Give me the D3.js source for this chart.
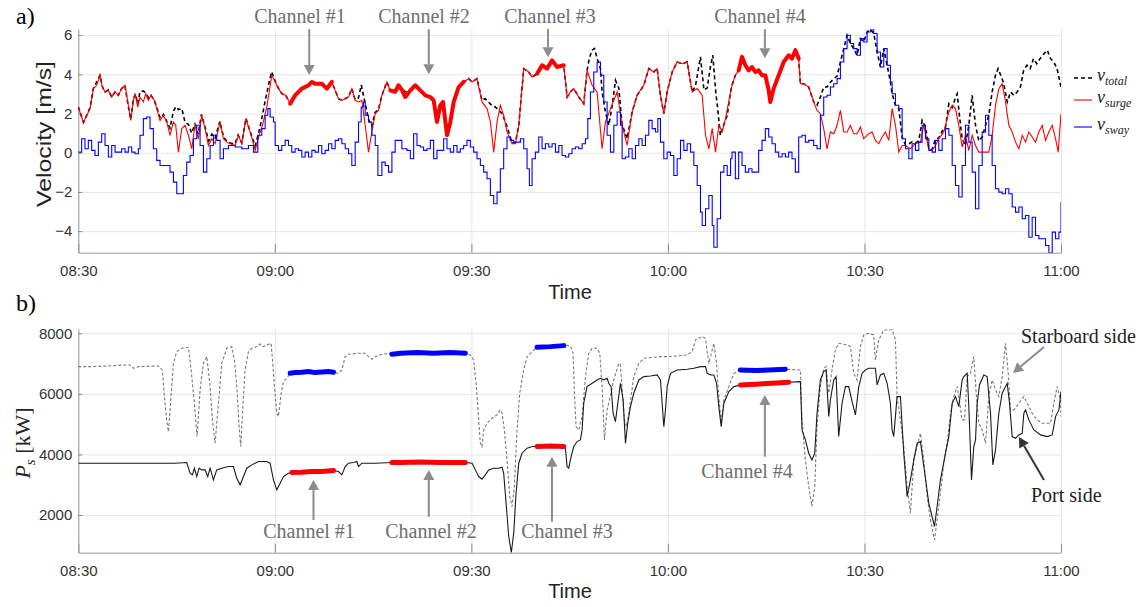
<!DOCTYPE html>
<html>
<head>
<meta charset="utf-8">
<script src="https://cdn.jsdelivr.net/npm/d3@7"></script>
<style>
  body { margin: 0; background: #fff; }
  .sans { font-family: "Liberation Sans", Arial, Helvetica, sans-serif; }
  .serif { font-family: "Liberation Serif", "Times New Roman", serif; }
</style>
</head>
<body>
<svg id="fig" width="1146" height="607"></svg>
<script>
// Time is given in minutes after 08:30.
const xTickMinutes = [0, 30, 60, 90, 120, 150];
const xTickLabels = ["08:30", "09:00", "09:30", "10:00", "10:30", "11:00"];
const velTicks = [-4, -2, 0, 2, 4, 6];
const powTicks = [2000, 4000, 6000, 8000];

// Minute intervals of the four channel passages
const channels = [[32.3, 39.1], [47.6, 59.1], [70.0, 74.15], [100.8, 110.2]];
const channelNames = ["Channel #1", "Channel #2", "Channel #3", "Channel #4"];

// Surge velocity [m/s]
const vSurge = [[0,2.33],[0.77,1.53],[1.79,2.25],[2.3,3.27],[2.81,3.44],[3.31,3.95],[3.67,3.35],[4.08,3.1],[4.59,3.18],[5.1,2.84],[5.61,3.1],[6.12,2.93],[6.62,3.27],[7.13,3.44],[7.64,2.42],[8.0,1.65],[8.41,2.67],[8.66,3.01],[9.07,2.33],[9.42,2.84],[9.93,2.59],[10.29,3.01],[10.7,2.67],[11.1,2.93],[11.61,2.67],[11.97,2.25],[12.48,1.65],[12.99,1.91],[13.5,1.57],[14.0,0.89],[14.5,1.57],[14.87,1.4],[15.28,0.03],[15.79,1.23],[16.3,1.4],[16.81,0.89],[17.32,0.2],[17.82,1.4],[18.33,0.71],[18.84,1.91],[19.35,1.23],[19.86,0.37],[20.37,0.71],[20.88,0.46],[21.64,1.57],[22.15,0.71],[22.66,0.54],[23.17,0.46],[23.94,0.37],[24.44,0.89],[24.95,0.46],[25.57,1.74],[26.23,1.06],[27.0,0.12],[27.6,0.89],[28.11,1.4],[28.77,2.33],[29.54,3.95],[30.05,3.61],[30.55,3.27],[31.06,3.01],[31.67,2.93],[32.34,2.5],[33.1,2.93],[34.12,3.27],[35.14,3.44],[35.65,3.61],[36.15,3.52],[37.17,3.52],[37.94,3.27],[38.7,3.61],[39.21,3.18],[39.72,2.76],[40.23,2.67],[40.74,2.76],[41.25,2.84],[41.75,3.27],[42.26,2.67],[42.77,2.59],[43.28,2.67],[43.79,1.4],[44.3,0.03],[44.81,1.06],[45.32,1.99],[45.83,2.16],[46.34,2.93],[47.1,3.61],[47.61,3.18],[48.37,3.1],[48.88,3.44],[49.4,3.2],[49.91,2.84],[50.68,3.18],[51.44,3.44],[52.2,3.18],[52.97,2.93],[53.73,2.84],[54.24,2.67],[54.75,1.57],[55.26,2.42],[55.67,2.59],[56.28,0.89],[56.79,1.57],[57.3,2.59],[58.06,3.35],[58.82,3.61],[59.59,3.78],[60.1,3.61],[60.86,3.78],[61.62,2.59],[62.39,2.25],[62.9,1.57],[63.41,0.03],[63.92,1.57],[64.42,2.42],[64.93,1.91],[65.44,1.06],[66.21,0.46],[66.72,0.46],[67.23,1.4],[67.99,4.29],[68.75,4.12],[69.26,3.86],[70.03,4.03],[70.79,4.46],[71.55,4.29],[72.32,4.71],[73.08,4.37],[74.1,4.46],[74.61,2.84],[75.12,3.1],[75.63,3.27],[76.39,2.84],[77.15,2.5],[77.66,4.2],[78.43,3.44],[79.19,3.1],[79.95,0.2],[80.46,1.57],[81.23,2.25],[82.25,3.1],[83.01,1.4],[83.77,0.37],[84.54,2.08],[85.3,2.93],[86.32,3.44],[87.08,4.29],[87.85,4.12],[88.36,4.29],[88.86,2.93],[89.37,1.99],[89.88,3.1],[90.65,4.12],[91.41,4.63],[92.17,4.54],[92.94,4.63],[93.7,3.1],[94.47,3.27],[95.23,2.93],[95.74,0.89],[96.25,0.2],[96.76,1.23],[97.27,0.03],[97.77,1.4],[98.28,1.06],[98.79,1.74],[99.56,3.1],[99.78,3.44],[100.29,3.95],[100.8,4.2],[101.31,4.89],[101.82,4.46],[102.33,4.2],[102.83,4.37],[103.34,4.12],[103.85,4.2],[104.36,3.95],[104.87,3.95],[105.38,3.18],[105.63,2.59],[106.14,3.27],[106.91,3.95],[107.67,4.63],[108.43,4.97],[108.94,4.8],[109.45,5.23],[109.96,4.8],[110.22,3.52],[110.73,3.52],[111.49,3.35],[112.25,2.59],[112.76,2.16],[113.27,1.99],[113.78,1.23],[114.29,0.2],[114.8,1.06],[115.31,0.97],[115.82,1.4],[116.33,2.16],[116.84,1.06],[117.35,1.06],[117.85,1.4],[118.36,0.97],[118.87,0.97],[119.38,1.31],[119.89,0.71],[120.65,0.97],[121.16,1.06],[121.67,0.63],[122.18,0.46],[122.69,0.8],[123.2,1.06],[123.71,0.63],[124.22,2.25],[124.73,1.4],[125.24,0.03],[125.75,0.37],[126.26,0.37],[127.02,0.2],[127.78,0.46],[128.55,0.54],[129.06,1.4],[129.82,0.2],[130.33,0.12],[130.84,0.37],[131.35,0.71],[132.11,1.06],[132.88,2.08],[133.39,2.42],[133.89,2.25],[134.4,1.4],[134.91,0.29],[135.42,0.89],[135.93,0.12],[136.44,0.89],[136.95,0.37],[137.46,0.03],[138.98,0.03],[139.49,0.89],[140.0,2.42],[140.51,3.27],[141.02,3.52],[141.53,2.59],[142.04,1.4],[142.55,1.06],[143.06,0.54],[143.57,0.2],[144.08,0.89],[144.59,0.54],[145.09,1.06],[145.6,0.8],[146.11,0.54],[146.62,1.06],[147.13,1.4],[147.64,0.63],[148.15,1.06],[148.66,1.4],[149.17,0.71],[149.57,0.03],[150,1.99]];

// Sway velocity [m/s]
const vSway = [[0,0.03],[0.51,0.71],[1.02,0.2],[1.53,0.63],[2.04,0.12],[2.55,-0.14],[3.06,0.54],[3.57,0.97],[4.08,0.37],[4.59,-0.22],[5.1,0.37],[5.61,0.03],[6.12,0.03],[6.62,0.2],[7.13,0.03],[7.64,0.29],[8.15,0.03],[8.66,-0.05],[9.17,0.2],[9.42,0.89],[9.93,1.74],[10.44,1.82],[10.95,1.23],[11.46,0.2],[11.97,-0.39],[12.48,-0.65],[12.99,-0.65],[13.5,-0.65],[14.0,-0.99],[14.52,-1.5],[15.03,-2.09],[15.53,-2.09],[16.04,-1.16],[16.55,-0.48],[17.06,-0.14],[17.57,0.71],[18.08,1.4],[18.59,0.37],[19.1,-0.99],[19.61,-0.31],[20.12,0.37],[20.63,0.89],[21.13,0.63],[21.64,-0.31],[22.15,0.2],[22.92,0.37],[23.94,0.29],[24.95,0.2],[25.97,0.37],[26.74,0.03],[27.4,0.89],[28.01,1.23],[28.52,1.91],[28.93,2.25],[29.28,1.82],[29.79,1.57],[30.05,0.37],[30.55,0.12],[31.06,0.37],[31.57,0.63],[32.08,0.37],[32.59,0.03],[33.1,0.2],[33.61,0.12],[34.12,-0.22],[34.63,0.03],[35.14,-0.22],[35.65,0.12],[36.15,0.03],[36.66,0.37],[37.17,-0.05],[37.68,0.12],[38.19,0.46],[38.7,0.2],[39.21,0.63],[39.72,0.71],[40.23,0.46],[40.74,0.2],[41.25,-0.05],[41.75,-0.65],[42.26,0.54],[42.77,1.57],[43.18,2.33],[43.54,2.59],[43.79,1.91],[44.3,1.57],[44.81,0.89],[45.32,0.37],[45.73,-1.16],[46.34,-0.48],[46.85,-0.65],[47.36,-0.99],[47.87,0.03],[48.37,0.63],[48.88,0.63],[49.39,0.2],[50.17,0.12],[50.68,-0.31],[51.19,0.97],[51.7,0.37],[52.2,0.29],[52.71,0.12],[53.22,0.2],[53.73,0.63],[54.24,-0.31],[54.75,0.12],[55.26,0.12],[55.77,0.71],[56.28,0.2],[56.79,0.03],[57.3,0.37],[57.81,0.03],[58.31,0.2],[58.82,0.37],[59.33,0.63],[59.84,0.29],[60.35,0.03],[60.86,-0.31],[61.37,-0.65],[61.88,-0.99],[62.39,-1.33],[62.9,-2.18],[63.41,-2.6],[63.92,-2.01],[64.42,-0.82],[64.93,0.2],[65.44,0.8],[65.95,0.63],[66.46,0.54],[66.97,0.54],[67.48,0.71],[67.99,0.2],[68.5,-0.82],[68.85,-1.67],[69.26,-0.31],[69.77,0.03],[70.28,0.8],[70.79,0.2],[71.3,0.46],[71.81,0.29],[72.32,0.46],[72.83,0.03],[73.34,0.37],[73.84,-0.14],[74.35,-0.22],[74.86,-0.05],[75.37,0.2],[75.88,0.29],[76.39,0.2],[76.9,0.46],[77.41,0.71],[77.77,1.74],[78.17,3.1],[78.68,4.12],[79.19,4.63],[79.7,3.95],[80.21,2.59],[80.72,0.89],[81.23,0.03],[81.74,1.4],[82.25,2.08],[82.75,1.4],[83.01,-0.31],[83.52,-0.22],[84.03,0.2],[84.54,-0.31],[85.05,0.37],[85.56,0.71],[86.06,0.37],[86.57,0.89],[87.08,1.65],[87.59,1.23],[88.1,1.06],[88.46,1.74],[88.86,0.54],[89.37,-0.31],[89.88,0.03],[90.39,-0.14],[90.9,-1.16],[91.41,-0.31],[91.92,0.63],[92.43,0.12],[92.94,0.46],[93.45,0.03],[93.96,-0.65],[94.47,-1.67],[94.97,-3.03],[95.23,-3.71],[95.74,-2.86],[96.25,-2.18],[96.76,-3.71],[97.01,-4.82],[97.52,-3.37],[98.03,-0.99],[98.54,-0.65],[99.05,-1.16],[99.56,-0.31],[99.78,0.03],[100.29,-1.33],[100.8,0.03],[101.31,-0.65],[101.82,-0.99],[102.33,-0.82],[102.83,-0.99],[103.34,-0.99],[103.85,0.12],[104.36,0.63],[104.87,1.23],[105.38,0.8],[105.89,0.46],[106.4,0.03],[106.91,-0.22],[107.42,-0.05],[107.93,-0.22],[108.43,0.03],[108.94,-0.31],[109.45,-0.99],[109.96,0.8],[110.47,0.89],[110.98,0.54],[111.49,0.63],[112.25,0.37],[112.76,0.2],[113.27,1.91],[113.78,2.84],[114.29,2.93],[114.8,3.35],[115.31,3.52],[115.82,3.78],[116.33,4.63],[116.84,5.31],[117.35,5.99],[117.85,5.57],[118.36,5.31],[118.87,4.97],[119.38,5.82],[119.89,5.65],[120.4,6.16],[120.91,6.3],[121.42,6.08],[121.93,5.14],[122.44,4.37],[122.95,5.31],[123.46,4.46],[123.96,3.61],[124.22,3.01],[124.73,2.42],[125.24,2.25],[125.75,0.71],[126.26,0.2],[126.77,-0.31],[127.27,0.46],[127.78,0.12],[128.29,0.54],[128.8,1.4],[129.31,0.71],[129.82,0.12],[130.33,0.03],[130.84,0.63],[131.35,0.12],[131.86,0.71],[132.37,1.23],[132.88,0.89],[133.39,-0.65],[133.89,-1.67],[134.4,-2.26],[134.91,-0.65],[135.42,1.4],[135.93,0.54],[136.44,-0.99],[136.95,-2.86],[137.46,-0.65],[137.97,1.06],[138.48,1.91],[138.98,0.89],[139.49,-0.65],[140.0,-1.84],[140.51,-2.01],[141.02,-2.09],[141.53,-1.84],[142.04,-2.09],[142.55,-2.77],[143.06,-3.03],[143.57,-2.77],[144.08,-3.37],[144.59,-3.2],[145.09,-4.31],[145.6,-3.29],[146.11,-4.22],[146.62,-4.39],[147.13,-4.39],[147.64,-4.73],[148.15,-5.1],[148.66,-4.05],[149.17,-4.39],[149.68,-4.05],[150,-2.52]];

// Total velocity [m/s]
const vTotal = [[0,2.33],[0.8,1.55],[1.8,2.3],[2.3,3.27],[3.3,3.95],[3.7,3.35],[4.1,3.1],[4.6,3.2],[5.1,2.84],[5.6,3.1],[6.1,2.93],[6.6,3.27],[7.1,3.44],[7.6,2.42],[8.0,1.7],[8.4,2.7],[8.7,3.0],[9.1,2.5],[9.4,3.1],[9.9,3.15],[10.3,3.05],[10.7,2.8],[11.1,2.93],[11.6,2.67],[12.0,2.3],[12.5,1.75],[13.0,1.95],[13.5,1.6],[14.0,1.25],[14.5,2.1],[14.9,2.35],[15.3,2.2],[15.8,2.25],[16.3,1.55],[16.8,1.45],[17.3,1.0],[17.8,1.45],[18.3,0.95],[18.8,1.95],[19.35,1.3],[19.9,0.6],[20.4,0.95],[20.9,0.75],[21.6,1.6],[22.2,0.75],[22.7,0.6],[23.2,0.5],[23.9,0.45],[24.4,0.9],[24.95,0.5],[25.6,1.75],[26.2,1.1],[27.0,0.35],[27.6,1.1],[28.1,1.9],[28.5,2.6],[29.0,3.4],[29.5,4.12],[30.05,3.65],[30.55,3.3],[31.06,3.01],[31.67,2.93],[32.34,2.5],[33.1,2.93],[34.12,3.27],[35.14,3.44],[35.65,3.61],[36.15,3.52],[37.17,3.52],[37.94,3.27],[38.7,3.61],[39.21,3.18],[39.72,2.76],[40.23,2.67],[40.74,2.76],[41.25,2.84],[41.75,3.27],[42.26,2.7],[42.77,2.8],[43.2,3.45],[43.54,2.9],[43.8,2.5],[44.3,1.7],[44.8,1.35],[45.3,2.05],[45.8,2.2],[46.34,2.93],[47.1,3.61],[47.61,3.18],[48.37,3.1],[48.88,3.44],[49.9,3.1],[50.68,3.18],[51.44,3.44],[52.2,3.18],[52.97,2.93],[53.73,2.84],[54.24,2.67],[54.75,1.6],[55.26,2.42],[55.67,2.59],[56.28,0.95],[56.79,1.57],[57.3,2.59],[58.06,3.35],[58.82,3.61],[59.59,3.78],[60.1,3.61],[60.86,3.78],[61.62,2.67],[62.1,2.76],[62.6,2.59],[63.1,2.42],[63.65,2.33],[64.2,2.16],[64.7,1.99],[65.2,1.57],[65.7,1.06],[66.2,0.5],[66.72,0.5],[67.23,1.4],[67.99,4.29],[68.75,4.12],[69.26,3.86],[70.03,4.03],[70.79,4.46],[71.55,4.29],[72.32,4.71],[73.08,4.37],[74.1,4.46],[74.61,2.84],[75.12,3.1],[75.63,3.27],[76.39,2.84],[77.15,2.5],[77.66,4.2],[78.0,4.8],[78.4,5.23],[78.8,5.31],[79.2,4.8],[79.7,4.3],[79.95,3.1],[80.46,2.08],[80.97,1.4],[81.5,2.42],[82.0,3.69],[82.5,3.3],[83.0,1.45],[83.77,0.71],[84.54,2.08],[85.3,2.93],[86.32,3.44],[87.08,4.29],[87.85,4.12],[88.36,4.29],[88.86,2.93],[89.37,1.99],[89.88,3.1],[90.65,4.12],[91.41,4.63],[92.17,4.54],[92.94,4.63],[93.7,3.1],[94.2,3.4],[94.97,4.89],[95.5,3.2],[96.0,3.3],[96.5,4.4],[96.85,4.97],[97.3,3.1],[97.6,2.25],[98.0,0.89],[98.5,1.4],[99.05,1.9],[99.56,3.1],[99.78,3.44],[100.29,3.95],[100.8,4.2],[101.31,4.89],[101.82,4.46],[102.33,4.2],[102.83,4.37],[103.34,4.12],[103.85,4.2],[104.36,3.95],[104.87,3.95],[105.38,3.18],[105.63,2.59],[106.14,3.27],[106.91,3.95],[107.67,4.63],[108.43,4.97],[108.94,4.8],[109.45,5.23],[109.96,4.8],[110.22,3.52],[110.73,3.52],[111.49,3.35],[112.25,2.59],[112.76,2.42],[113.27,2.84],[113.78,3.35],[114.29,3.35],[114.8,3.6],[115.31,3.78],[115.82,3.9],[116.33,4.63],[116.84,5.31],[117.35,5.99],[117.85,5.57],[118.36,5.31],[118.87,4.97],[119.38,5.82],[119.89,5.65],[120.4,6.16],[120.91,6.3],[121.42,6.08],[121.93,5.14],[122.44,4.37],[122.95,5.31],[123.46,4.46],[123.96,3.61],[124.22,3.01],[124.73,2.42],[125.24,2.25],[125.75,0.8],[126.26,0.4],[126.77,0.45],[127.27,0.55],[127.78,0.5],[128.29,0.6],[128.8,1.65],[129.31,1.3],[129.82,0.25],[130.33,0.15],[130.84,0.7],[131.35,0.75],[131.86,1.1],[132.37,1.3],[132.88,2.5],[133.39,2.3],[133.89,2.8],[134.15,3.0],[134.5,1.9],[134.91,0.7],[135.42,0.37],[135.93,1.4],[136.44,2.93],[136.95,1.4],[137.46,0.6],[137.97,0.8],[138.48,1.4],[138.98,1.9],[139.49,3.1],[140.0,3.95],[140.4,4.29],[140.8,3.95],[141.2,3.6],[141.8,2.59],[142.3,3.1],[142.8,2.93],[143.3,3.1],[143.8,3.35],[144.3,4.2],[144.8,4.46],[145.3,4.29],[145.8,4.8],[146.3,4.54],[146.8,4.8],[147.4,5.05],[147.9,5.23],[148.4,4.8],[148.9,4.63],[149.4,4.29],[150,3.35]];

// Shaft power [kW], starboard side
const pStarboard = [[0,6900],[2.04,6900],[4.59,6922],[7.13,6955],[7.9,6955],[8.41,6845],[9.17,6900],[12.22,6922],[12.83,6790],[13.14,5910],[13.5,5140],[13.75,4755],[14.0,5470],[14.52,7010],[15.03,7395],[15.79,7505],[16.81,7538],[17.22,6790],[17.72,5690],[18.13,4590],[18.59,6130],[19.1,7010],[19.61,7230],[20.12,6240],[20.47,5140],[20.88,4370],[21.39,5690],[21.9,7010],[22.66,7505],[23.42,7560],[23.83,7120],[24.19,6240],[24.55,4920],[24.8,4260],[25.06,5360],[25.46,6790],[25.97,7395],[26.48,7505],[27.24,7560],[27.75,7648],[28.26,7560],[28.77,7615],[29.43,7670],[29.64,7120],[29.94,6240],[30.3,5360],[30.55,5250],[30.96,6020],[31.32,6405],[31.83,6515],[32.34,6680],[33.1,6702],[34.12,6713],[35.14,6735],[36.15,6702],[37.17,6724],[38.19,6735],[38.95,6713],[39.72,6680],[40.23,6790],[40.74,7230],[41.25,7307],[42.77,7340],[43.79,7340],[44.3,7230],[44.81,7142],[45.32,7230],[46.34,7307],[47.36,7340],[47.87,7307],[49.15,7340],[51.7,7362],[54.24,7340],[56.79,7362],[59.08,7340],[59.84,7285],[60.35,7120],[60.76,6240],[61.12,5140],[61.37,4370],[61.62,4260],[61.88,4810],[62.39,5030],[63.15,5195],[63.92,5305],[64.42,5470],[64.68,5360],[65.04,4810],[65.44,3820],[65.85,2610],[66.21,2280],[66.56,2940],[66.97,4810],[67.38,6020],[67.99,6790],[68.5,7230],[69.52,7450],[70.03,7538],[72.06,7560],[74.1,7593],[74.35,7615],[75.12,7582],[75.53,7340],[75.73,6020],[75.98,4920],[76.39,4810],[76.9,5250],[77.41,6570],[77.92,7340],[78.43,7505],[79.19,7505],[79.6,7340],[79.95,6240],[80.31,4480],[80.72,5470],[81.74,6460],[82.5,7010],[82.75,6955],[83.16,5690],[83.37,5140],[83.67,4920],[84.03,5360],[84.79,6570],[85.56,7010],[86.32,7175],[87.85,7208],[88.86,7230],[89.88,7230],[91.41,7252],[92.94,7285],[93.7,7395],[94.21,7780],[95.23,7890],[95.74,7835],[95.99,7395],[96.25,7010],[96.76,7450],[97.01,7670],[97.42,7010],[97.77,5910],[98.13,5030],[98.54,5800],[99.3,6240],[100.07,6680],[101.05,6790],[103.34,6768],[105.38,6790],[107.93,6812],[110.22,6790],[110.47,5140],[110.98,3820],[111.49,2940],[111.99,2280],[112.41,2940],[112.76,4920],[113.27,6240],[113.78,6845],[114.14,6900],[114.55,6020],[115.05,6790],[115.56,7450],[116.07,7670],[117.35,7615],[117.85,7560],[118.36,6680],[118.87,6460],[119.38,7560],[119.89,7945],[120.65,8000],[121.42,7945],[121.67,7120],[122.18,7780],[122.95,8110],[124.22,8120],[124.73,7780],[124.98,5910],[125.49,5140],[126.0,4260],[126.51,2940],[127.02,2060],[127.53,3820],[128.04,4260],[128.55,4700],[129.06,3820],[129.57,2610],[130.07,1840],[130.69,1180],[131.09,1840],[131.6,2720],[132.11,3710],[132.62,4370],[133.13,5360],[133.64,5910],[134.15,6240],[134.4,5910],[134.91,5140],[135.27,5140],[135.68,6570],[136.18,6680],[136.69,7230],[137.05,6020],[137.46,5030],[137.97,4810],[138.48,4370],[138.98,5910],[139.49,6460],[140.0,6130],[140.51,5910],[141.02,6570],[141.53,7670],[141.94,6680],[142.29,5470],[142.8,5470],[143.57,5690],[144.33,5910],[144.84,5690],[145.6,5360],[146.37,5140],[147.13,5030],[148.4,5030],[148.91,5690],[149.42,6240],[149.93,5800],[150,5250]];

// Shaft power [kW], port side
const pPort = [[0,3710],[4.59,3710],[9.68,3710],[14.77,3710],[16.55,3732],[17.06,3380],[17.42,3325],[17.72,3545],[18.08,3270],[18.44,3545],[18.84,3490],[19.35,3490],[19.76,3270],[20.12,3545],[20.63,3160],[21.13,3490],[21.9,3545],[22.92,3600],[23.68,3600],[24.19,3215],[24.7,2995],[25.21,3270],[25.72,3545],[26.48,3655],[27.5,3765],[28.77,3765],[29.28,3710],[29.79,3160],[30.3,2830],[30.81,3050],[31.32,3270],[32.08,3380],[32.59,3402],[34.12,3413],[35.65,3435],[37.17,3435],[38.95,3468],[39.72,3435],[40.23,3325],[40.74,3600],[41.25,3710],[42.01,3732],[42.52,3765],[42.77,3600],[43.28,3710],[45.32,3710],[47.87,3732],[49.15,3732],[52.2,3754],[55.26,3732],[59.08,3732],[60.1,3710],[60.61,3490],[61.12,3270],[61.62,3182],[62.13,3325],[62.64,3490],[63.41,3545],[64.17,3545],[64.68,3578],[64.93,3380],[65.34,2280],[65.7,1290],[66.1,760],[66.46,1400],[66.82,2720],[67.23,3710],[67.73,4040],[68.5,4205],[69.26,4260],[70.03,4260],[72.06,4282],[74.1,4260],[74.35,4205],[74.61,3600],[74.86,3545],[75.22,3930],[75.63,4260],[76.13,4425],[76.64,4480],[76.9,4810],[77.15,5690],[77.66,6240],[78.43,6350],[79.19,6460],[79.7,6515],[80.21,6460],[80.72,6515],[80.97,6350],[81.33,6240],[81.63,5360],[81.99,5085],[82.35,5690],[82.75,6350],[83.16,5800],[83.52,4370],[83.87,5030],[84.28,5580],[84.79,6020],[85.56,6460],[86.32,6570],[87.34,6592],[88.36,6625],[88.86,6460],[89.12,5690],[89.37,4920],[89.63,5470],[89.88,6240],[90.39,6680],[91.41,6790],[92.94,6812],[93.96,6845],[94.97,6900],[95.74,6900],[95.99,6680],[96.5,6625],[97.01,6625],[97.42,6350],[97.77,5580],[98.13,4920],[98.54,5690],[99.3,6075],[100.07,6240],[101.05,6295],[103.34,6317],[105.89,6350],[108.43,6383],[110.22,6405],[110.47,4810],[110.98,4480],[111.49,4040],[111.99,3820],[112.41,4040],[112.76,5360],[113.27,6460],[113.78,6735],[114.14,6790],[114.55,5250],[114.8,5800],[115.31,6460],[115.67,6570],[116.07,4590],[116.58,5690],[117.09,6240],[117.6,6240],[118.11,5745],[118.62,5305],[119.13,6240],[119.64,6680],[120.15,6790],[120.65,6845],[121.67,6845],[121.93,6295],[122.44,6625],[122.95,6680],[123.46,6350],[123.96,5690],[124.22,4810],[124.47,4590],[124.98,5910],[125.49,5910],[126.0,4040],[126.51,2610],[127.02,3160],[127.53,3820],[128.04,4370],[128.55,4425],[129.06,3600],[129.82,2390],[130.69,1620],[131.09,2280],[131.6,3160],[132.37,4040],[132.88,4590],[133.39,5690],[133.89,5910],[134.4,5580],[134.91,6460],[135.17,6570],[135.68,6680],[135.93,5580],[136.34,3160],[136.69,4260],[136.95,4480],[137.2,5690],[137.56,6295],[138.22,6625],[138.73,6570],[139.24,5360],[139.6,3655],[140.0,4150],[140.51,5360],[141.02,6020],[141.79,6350],[142.14,5690],[142.55,4590],[143.06,4535],[143.57,4645],[144.08,4700],[144.33,5360],[144.59,5470],[145.09,5140],[145.86,4810],[146.88,4645],[147.9,4590],[148.66,4645],[149.17,5250],[149.68,5470],[150,6075]];

// Annotation arrows: [minute, tail value, tip value]
const velArrows = [[35.25, 6.3, 3.96], [53.5, 6.3, 4.0], [71.7, 6.3, 4.87], [104.8, 6.3, 4.82]];
const powArrows = [[35.9, 1835, 3156], [53.5, 1944, 3486], [72.3, 1779, 3925], [104.8, 3925, 5963]];

const svg = d3.select("#fig");
const SANS = '"Liberation Sans", Arial, Helvetica, sans-serif';
const SERIF = '"Liberation Serif", "Times New Roman", serif';

const x = d3.scaleLinear().domain([0, 150]).range([78.3, 1061]);
const yVel = d3.scaleLinear().domain([-5.1, 6.3]).range([252.7, 29.2]);
const yPow = d3.scaleLinear().domain([755, 8132]).range([552.7, 329.3]);

const defs = svg.append("defs");
function addClip(id, y) {
  const [y0, y1] = y.range();
  defs.append("clipPath").attr("id", id).append("rect")
    .attr("x", x.range()[0]).attr("y", y1)
    .attr("width", x.range()[1] - x.range()[0]).attr("height", y0 - y1);
}
addClip("clipVel", yVel);
addClip("clipPow", yPow);

function drawAxes(y, yTicks, yFmt) {
  const g = svg.append("g");
  const [yb, yt] = y.range();
  // grid
  g.append("g").attr("transform", `translate(0,${yb})`)
    .call(d3.axisBottom(x).tickValues(xTickMinutes).tickSize(-(yb - yt)).tickFormat(""))
    .call(s => { s.select(".domain").remove(); s.selectAll("line").attr("stroke", "#e6e6e6"); });
  g.append("g").attr("transform", `translate(${x.range()[0]},0)`)
    .call(d3.axisLeft(y).tickValues(yTicks).tickSize(-(x.range()[1] - x.range()[0])).tickFormat(""))
    .call(s => { s.select(".domain").remove(); s.selectAll("line").attr("stroke", "#e6e6e6"); });
  // x axis
  g.append("g").attr("transform", `translate(0,${yb})`)
    .call(d3.axisBottom(x).tickValues(xTickMinutes).tickSize(-9).tickSizeOuter(0).tickPadding(13)
      .tickFormat((d, i) => xTickLabels[i]))
    .call(s => {
      s.select(".domain").attr("stroke", "#9a9a9a");
      s.selectAll("line").attr("stroke", "#8a8a8a");
      s.selectAll("text").attr("font-family", SANS).attr("font-size", 15).attr("fill", "#333");
    });
  // y axis
  g.append("g").attr("transform", `translate(${x.range()[0]},0)`)
    .call(d3.axisLeft(y).tickValues(yTicks).tickSize(-4).tickSizeOuter(0).tickPadding(6).tickFormat(yFmt))
    .call(s => {
      s.select(".domain").attr("stroke", "#9a9a9a");
      s.selectAll("line").attr("stroke", "#8a8a8a");
      s.selectAll("text").attr("font-family", SANS).attr("font-size", 15).attr("fill", "#333");
    });
}

drawAxes(yVel, velTicks, d3.format("d"));
drawAxes(yPow, powTicks, d3.format("d"));

function inChannels(data, c) {
  return data.filter(d => d[0] >= c[0] && d[0] <= c[1]);
}

// ---- a) velocities ----
const gv = svg.append("g").attr("clip-path", "url(#clipVel)");
const lineV = d3.line().x(d => x(d[0])).y(d => yVel(d[1]));
const stepV = d3.line().x(d => x(d[0])).y(d => yVel(d[1])).curve(d3.curveStepAfter);

gv.append("path").datum(vTotal).attr("d", lineV).attr("fill", "none")
  .attr("stroke", "#000").attr("stroke-width", 1.6).attr("stroke-dasharray", "4,3");
gv.append("path").datum(vSurge).attr("d", lineV).attr("fill", "none")
  .attr("stroke", "#ff0000").attr("stroke-width", 1.1);
gv.append("path").datum(vSway).attr("d", stepV).attr("fill", "none")
  .attr("stroke", "#0000ff").attr("stroke-width", 1.1);
channels.forEach(c => {
  gv.append("path").datum(inChannels(vSurge, c)).attr("d", lineV).attr("fill", "none")
    .attr("stroke", "#ff0000").attr("stroke-width", 4).attr("stroke-linejoin", "round").attr("stroke-linecap", "round");
});

// ---- b) shaft power ----
const gp = svg.append("g").attr("clip-path", "url(#clipPow)");
const lineP = d3.line().x(d => x(d[0])).y(d => yPow(d[1]));
gp.append("path").datum(pStarboard).attr("d", lineP).attr("fill", "none")
  .attr("stroke", "#7a7a7a").attr("stroke-width", 1.1).attr("stroke-dasharray", "3,2");
gp.append("path").datum(pPort).attr("d", lineP).attr("fill", "none")
  .attr("stroke", "#1a1a1a").attr("stroke-width", 1.1);
channels.forEach(c => {
  gp.append("path").datum(inChannels(pStarboard, c)).attr("d", lineP).attr("fill", "none")
    .attr("stroke", "#0000ff").attr("stroke-width", 5).attr("stroke-linecap", "round");
  gp.append("path").datum(inChannels(pPort, c)).attr("d", lineP).attr("fill", "none")
    .attr("stroke", "#ff0000").attr("stroke-width", 5).attr("stroke-linecap", "round");
});

// ---- arrows ----
function arrow(x1, y1, x2, y2, color) {
  const ang = Math.atan2(y2 - y1, x2 - x1);
  const L = 10, w = 5.5;
  const bx = x2 - L * Math.cos(ang), by = y2 - L * Math.sin(ang);
  svg.append("line").attr("x1", x1).attr("y1", y1).attr("x2", bx).attr("y2", by)
    .attr("stroke", color).attr("stroke-width", 2);
  svg.append("path")
    .attr("d", `M${x2},${y2}L${bx + w * Math.sin(ang)},${by - w * Math.cos(ang)}L${bx - w * Math.sin(ang)},${by + w * Math.cos(ang)}Z`)
    .attr("fill", color);
}
velArrows.forEach(a => arrow(x(a[0]), yVel(a[1]), x(a[0]), yVel(a[2]), "#8c8c8c"));
powArrows.forEach(a => arrow(x(a[0]), yPow(a[1]), x(a[0]), yPow(a[2]), "#8c8c8c"));
arrow(1044, 347, 1013, 373, "#8c8c8c");
arrow(1044, 480, 1019, 437, "#333333");

// ---- text ----
function label(txt, px, py, opts = {}) {
  return svg.append("text").attr("x", px).attr("y", py)
    .attr("font-family", opts.family || SERIF).attr("font-size", opts.size || 20)
    .attr("fill", opts.fill || "#6e6e6e").attr("text-anchor", opts.anchor || "middle").text(txt);
}
const topLabelX = [300, 424, 550, 760];
channelNames.forEach((n, i) => label(n, topLabelX[i], 23));
const botLabelPos = [[309, 538], [431, 538], [567, 538], [747, 478]];
channelNames.forEach((n, i) => label(n, botLabelPos[i][0], botLabelPos[i][1]));
label("Starboard side", 1021, 343, { anchor: "start", fill: "#222" });
label("Port side", 1031, 502, { anchor: "start", fill: "#222" });

label("a)", 16, 24, { anchor: "start", fill: "#000", size: 24 });
label("b)", 16, 311, { anchor: "start", fill: "#000", size: 24 });

label("Time", 570, 299, { family: SANS, fill: "#222", size: 20 });
label("Time", 570, 598, { family: SANS, fill: "#222", size: 20 });

svg.append("text").attr("transform", "translate(51,134) rotate(-90)")
  .attr("font-family", SANS).attr("font-size", 20).attr("fill", "#222")
  .attr("text-anchor", "middle").attr("textLength", 146).attr("lengthAdjust", "spacingAndGlyphs")
  .text("Velocity [m/s]");

const ps = svg.append("text").attr("transform", "translate(30,443) rotate(-90)")
  .attr("font-family", SERIF).attr("font-size", 22).attr("fill", "#222").attr("text-anchor", "middle");
ps.append("tspan").attr("font-style", "italic").text("P");
ps.append("tspan").attr("font-style", "italic").attr("font-size", 15).attr("dy", 5).text("s");
ps.append("tspan").attr("dy", -5).text(" [kW]");

// ---- legend ----
const legend = [
  { name: "total", color: "#000", dash: "4,3", y: 78 },
  { name: "surge", color: "#ff0000", dash: null, y: 100 },
  { name: "sway", color: "#0000ff", dash: null, y: 127 }
];
legend.forEach(l => {
  svg.append("line").attr("x1", 1074).attr("x2", 1092).attr("y1", l.y).attr("y2", l.y)
    .attr("stroke", l.color).attr("stroke-width", l.dash ? 1.6 : 1.1).attr("stroke-dasharray", l.dash);
  const t = svg.append("text").attr("x", 1097).attr("y", l.y + 3)
    .attr("font-family", SERIF).attr("font-style", "italic").attr("font-size", 18).attr("fill", "#222");
  t.append("tspan").text("v");
  t.append("tspan").attr("font-size", 12).attr("dy", 4).text(l.name);
});
</script>
</body>
</html>
